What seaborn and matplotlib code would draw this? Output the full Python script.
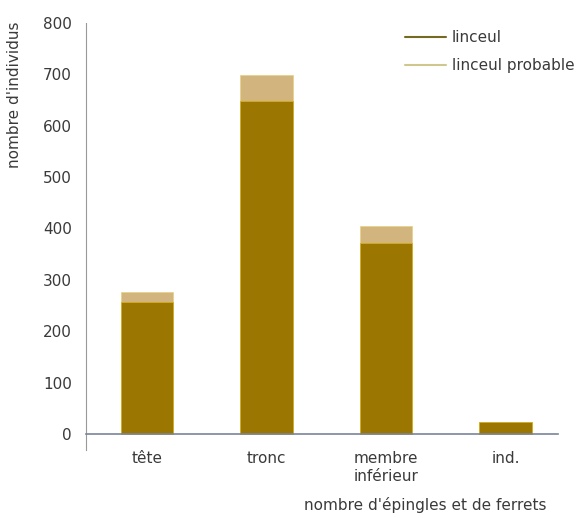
import matplotlib
matplotlib.use("Agg")
import matplotlib.pyplot as plt
import seaborn as sns
import pandas as pd
from matplotlib.lines import Line2D

categories = ["tête", "tronc", "membre\ninférieur", "ind."]
linceul = [257, 647, 372, 23]
linceul_probable = [20, 51, 33, 0]

dark = "#9b7600"
light = "#d2b57e"
fs = 11

df = pd.DataFrame({"partie": categories, "linceul": linceul, "probable": linceul_probable})
df["total"] = df["linceul"] + df["probable"]

sns.set_style("white")
plt.rcParams["font.family"] = ["DejaVu Sans"]

fig = plt.figure(figsize=(5.85, 5.18), dpi=100)
ax = fig.add_axes([0.147, 0.131, 0.807, 0.825])

sns.barplot(data=df, x="partie", y="total", color=light, width=0.44,
            saturation=1, edgecolor="#ead07a", linewidth=0.5, ax=ax)
sns.barplot(data=df, x="partie", y="linceul", color=dark, width=0.44,
            saturation=1, edgecolor="#d9b21c", linewidth=0.5, ax=ax)

ax.set_xlim(-0.51, 3.44)
ax.set_ylim(-31, 800)
ax.set_yticks(range(0, 801, 100))
ax.set_xlabel("")
ax.set_ylabel("")

for s in ["top", "right"]:
    ax.spines[s].set_visible(False)
ax.spines["left"].set_color("#999999")
ax.spines["left"].set_linewidth(0.8)
ax.spines["bottom"].set_position(("data", 0))
ax.spines["bottom"].set_color("#7a8599")
ax.spines["bottom"].set_linewidth(1.2)

ax.tick_params(axis="y", length=6, width=0.8, color="#999999",
               labelsize=fs, labelcolor="#3a3a3a", pad=4)
ax.tick_params(axis="x", length=0, labelsize=fs, labelcolor="#3a3a3a", pad=12)
for lab in ax.get_xticklabels():
    lab.set_linespacing(1.3)
    lab.set_verticalalignment("top")

fig.text(15 / 585, 1 - 95 / 518, "nombre d'individus", rotation=90,
         ha="center", va="center", fontsize=fs, color="#3a3a3a")
fig.text(425 / 585, 1 - 505 / 518, "nombre d'épingles et de ferrets",
         ha="center", va="center", fontsize=fs, color="#3a3a3a")

handles = [Line2D([], [], color="#756a22", lw=1.5),
           Line2D([], [], color="#cfc78e", lw=1.5)]
fig.legend(handles, ["linceul", "linceul probable"], loc="upper left",
           bbox_to_anchor=(405 / 585, 1 - 30 / 518), frameon=False,
           borderpad=0, borderaxespad=0,
           fontsize=fs, handlelength=2.7, handletextpad=0.35,
           labelspacing=0.85, labelcolor="#3a3a3a")

fig.savefig("out.png", dpi=100)
